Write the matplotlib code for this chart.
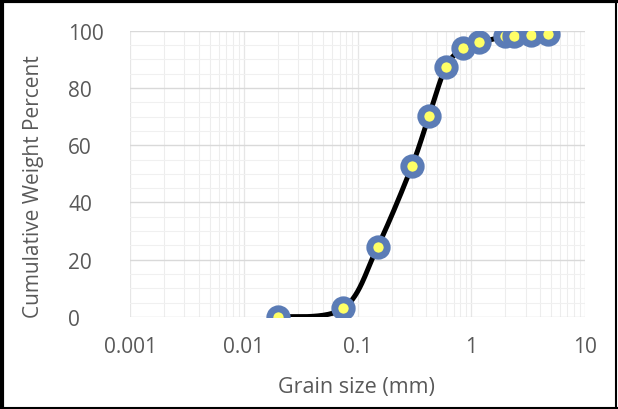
import matplotlib.pyplot as plt
import numpy as np
from matplotlib.lines import Line2D

# sieve results
grain_mm = [0.02, 0.075, 0.15, 0.3, 0.425, 0.6, 0.85, 1.18, 2.0, 2.36, 3.35, 4.75]
cum_pct = [0.0, 3.0, 24.5, 52.6, 70.3, 87.4, 94.0, 95.9, 98.0, 98.2, 98.6, 98.8]

y_ticks = [0, 20, 40, 60, 80, 100]
x_ticks = [0.001, 0.01, 0.1, 1, 10]
x_tick_labels = ['0.001', '0.01', '0.1', '1', '10']

plt.rcParams['font.family'] = ['Open Sans', 'DejaVu Sans']


def smooth(xs, ys, n=30):
    # catmull-rom through the points in log-x space, like a spreadsheet smoothed line
    lx = np.log10(xs)
    ys = np.asarray(ys, float)
    px = np.concatenate([[lx[0]], lx, [lx[-1]]])
    py = np.concatenate([[ys[0]], ys, [ys[-1]]])
    outx, outy = [], []
    for i in range(1, len(px) - 2):
        p0, p1, p2, p3 = (np.array([px[j], py[j]]) for j in range(i - 1, i + 3))
        c1 = p1 + (p2 - p0) / 6
        c2 = p2 - (p3 - p1) / 6
        t = np.linspace(0, 1, n)[:, None]
        pts = (1 - t) ** 3 * p1 + 3 * (1 - t) ** 2 * t * c1 + 3 * (1 - t) * t ** 2 * c2 + t ** 3 * p2
        outx.extend(pts[:, 0])
        outy.extend(pts[:, 1])
    return 10 ** np.array(outx), np.array(outy)


fig = plt.figure(figsize=(6.18, 4.10), dpi=100)
ax = fig.add_axes([0.2104, 0.2244, 0.7362, 0.6983])

sx, sy = smooth(grain_mm, cum_pct)
ax.plot(sx, sy, color='black', lw=3.6, solid_capstyle='round', zorder=3)
ax.plot(grain_mm, cum_pct, ls='none', marker='o', ms=12.5, mew=5,
        mfc='#ffff66', mec='#5b7cb6', zorder=4)

ax.set_xscale('log')
ax.set_xlim(0.001, 10)
ax.set_ylim(0, 100)
ax.set_xticks(x_ticks)
ax.set_xticklabels(x_tick_labels)
ax.set_yticks(y_ticks)
ax.set_yticks(np.arange(0, 101, 5), minor=True)

ax.grid(which='major', axis='y', color='#d9d9d9', lw=1.0)
ax.grid(which='minor', axis='y', color='#f0f0f0', lw=0.8)
ax.grid(which='major', axis='x', color='#e6e6e6', lw=0.9)
ax.grid(which='minor', axis='x', color='#ededed', lw=0.8)
ax.set_axisbelow(True)

for s in ax.spines.values():
    s.set_visible(False)

ax.tick_params(which='both', length=0, labelsize=15, labelcolor='#595959')
ax.tick_params(axis='x', pad=14)
ax.tick_params(axis='y', pad=44.5)
for lab in ax.get_yticklabels():
    lab.set_horizontalalignment('left')

fig.text(0.577, 0.054, 'Grain size (mm)', ha='center', va='center',
         fontsize=15.5, color='#595959')
fig.text(0.055, 0.546, 'Cumulative Weight Percent', ha='center', va='center',
         rotation=90, fontsize=15, color='#595959')

# black frame round the figure
fig.add_artist(Line2D([0.004, 0.004], [0, 1], transform=fig.transFigure, color='black', lw=3))
fig.add_artist(Line2D([0, 1], [0.996, 0.996], transform=fig.transFigure, color='black', lw=3))
fig.add_artist(Line2D([0.997, 0.997], [0, 1], transform=fig.transFigure, color='black', lw=1.5))
fig.add_artist(Line2D([0, 1], [0.003, 0.003], transform=fig.transFigure, color='black', lw=1.5))

fig.savefig('out.png', dpi=100)
